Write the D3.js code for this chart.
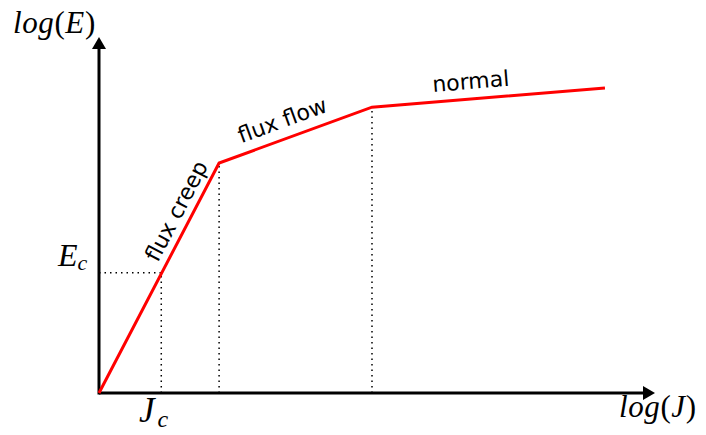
<!DOCTYPE html>
<html lang="en">
<head>
<meta charset="UTF-8">
<script src="https://d3js.org/d3.v7.min.js"></script>
<style>
  body { margin: 0; background: #fff; }
  .math { font-family: "Liberation Serif", serif; font-style: italic; }
  .up { font-style: normal; }
  .regime { font-family: "DejaVu Sans", sans-serif; font-size: 22px; }
</style>
</head>
<body>
<svg id="chart" width="706" height="435"></svg>
<script>
// piecewise E-J curve in log units (arbitrary)
var logJ = [0, 0.216, 0.491, 0.910];
var logE = [0, 0.646, 0.803, 0.857];
var Jc = 0.112, Ec = 0.338;
var regimes = ["flux creep", "flux flow", "normal"];

var svg = d3.select("#chart");

var x = d3.scaleLinear().domain([0, 1]).range([99, 655]);
var y = d3.scaleLinear().domain([0, 1]).range([393, 37]);

// axes with arrow heads
svg.append("line")
    .attr("x1", x(0)).attr("y1", y(0))
    .attr("x2", x(1) - 10).attr("y2", y(0))
    .attr("stroke", "black").attr("stroke-width", 3);
svg.append("line")
    .attr("x1", x(0)).attr("y1", y(0) + 1.5)
    .attr("x2", x(0)).attr("y2", y(1) + 10)
    .attr("stroke", "black").attr("stroke-width", 3);
svg.append("path")
    .attr("d", "M" + x(1) + "," + y(0) + "l-12,-7l0,14z")
    .attr("fill", "black");
svg.append("path")
    .attr("d", "M" + x(0) + "," + y(1) + "l-7,12l14,0z")
    .attr("fill", "black");

// dotted guides
var dotted = function (x1, y1, x2, y2) {
  svg.append("line")
      .attr("x1", x1).attr("y1", y1).attr("x2", x2).attr("y2", y2)
      .attr("stroke", "black").attr("stroke-width", 1.5)
      .attr("stroke-dasharray", "1.5,4");
};
dotted(x(Jc), y(0), x(Jc), y(Ec));
dotted(x(0), y(Ec), x(Jc), y(Ec));
dotted(x(logJ[1]), y(0), x(logJ[1]), y(logE[1]));
dotted(x(logJ[2]), y(0), x(logJ[2]), y(logE[2]));

// the curve
var pts = logJ.map(function (d, i) { return [d, logE[i]]; });
svg.append("path")
    .datum(pts)
    .attr("fill", "none")
    .attr("stroke", "#ff0000")
    .attr("stroke-width", 3)
    .attr("d", d3.line().x(function (d) { return x(d[0]); }).y(function (d) { return y(d[1]); }));

// regime labels along each segment: [position along segment, baseline offset]
var place = [[0.76, -8], [0.455, -11], [0.43, -10]];
regimes.forEach(function (name, i) {
  var x0 = x(logJ[i]), y0 = y(logE[i]), x1 = x(logJ[i + 1]), y1 = y(logE[i + 1]);
  var ang = Math.atan2(y1 - y0, x1 - x0) * 180 / Math.PI;
  var t = place[i][0];
  var mx = x0 + (x1 - x0) * t, my = y0 + (y1 - y0) * t;
  svg.append("text")
      .attr("class", "regime")
      .attr("text-anchor", "middle")
      .attr("transform", "translate(" + mx + "," + my + ") rotate(" + ang + ") translate(0," + place[i][1] + ")")
      .text(name);
});

// math labels
var lE = svg.append("text").attr("class", "math").attr("x", 13).attr("y", 33)
    .attr("font-size", 31).attr("letter-spacing", 0.6);
lE.append("tspan").text("log");
lE.append("tspan").attr("class", "up").text("(");
lE.append("tspan").text("E");
lE.append("tspan").attr("class", "up").text(")");

var lJ = svg.append("text").attr("class", "math").attr("x", 619).attr("y", 417)
    .attr("font-size", 31).attr("letter-spacing", 0.6);
lJ.append("tspan").text("log");
lJ.append("tspan").attr("class", "up").text("(");
lJ.append("tspan").text("J");
lJ.append("tspan").attr("class", "up").text(")");

var lEc = svg.append("text").attr("class", "math").attr("x", 58).attr("y", 266).attr("font-size", 32);
lEc.append("tspan").text("E");
lEc.append("tspan").attr("font-size", 22).attr("dy", 4).text("c");

var lJc = svg.append("text").attr("class", "math").attr("x", 139).attr("y", 422).attr("font-size", 35);
lJc.append("tspan").text("J");
lJc.append("tspan").attr("font-size", 24).attr("dy", 5).attr("dx", 3).text("c");
</script>
</body>
</html>
